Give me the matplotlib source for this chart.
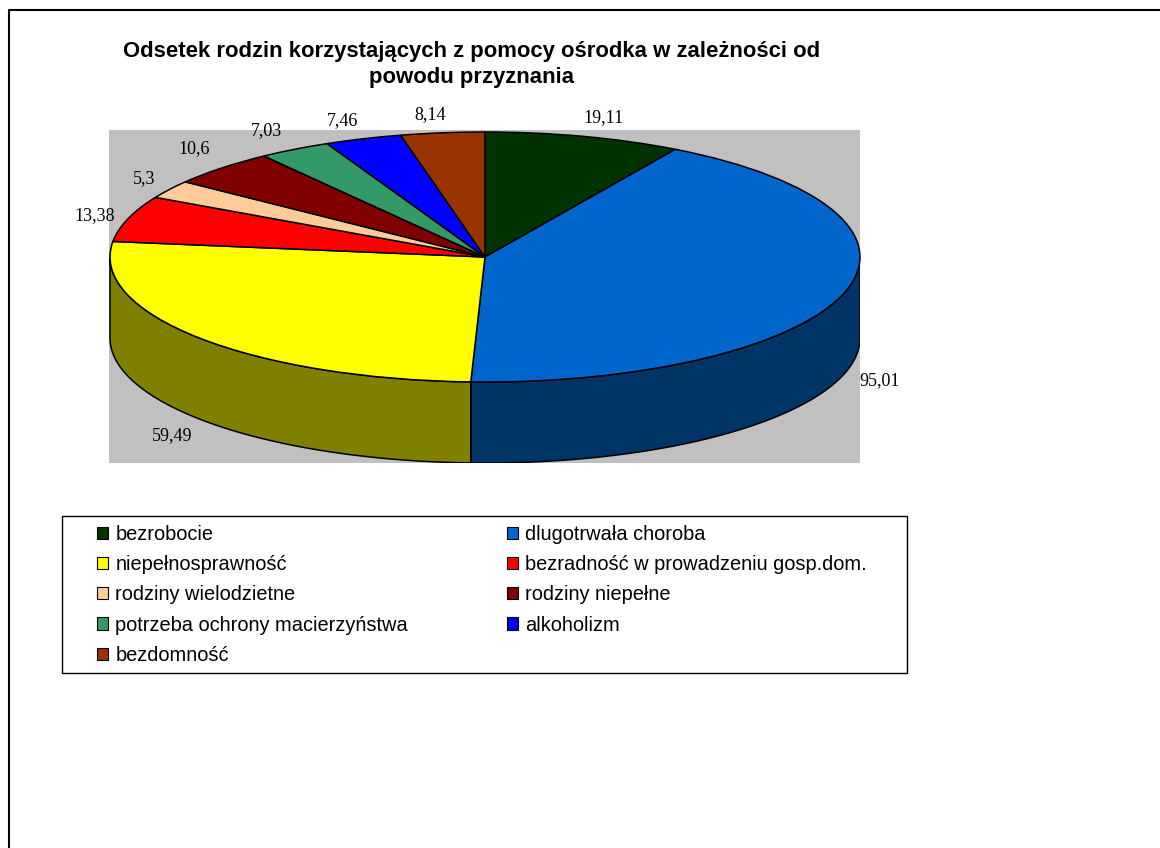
import numpy as np
import matplotlib
matplotlib.use('Agg')
import matplotlib.pyplot as plt
from matplotlib.patches import Polygon, Rectangle

plt.rcParams['font.family'] = ['Liberation Sans', 'DejaVu Sans']

kategorie = ['bezrobocie', 'dlugotrwała choroba', 'niepełnosprawność',
             'bezradność w prowadzeniu gosp.dom.', 'rodziny wielodzietne',
             'rodziny niepełne', 'potrzeba ochrony macierzyństwa',
             'alkoholizm', 'bezdomność']
wartosci = [19.11, 95.01, 59.49, 13.38, 5.3, 10.6, 7.03, 7.46, 8.14]
etykiety = ['19,11', '95,01', '59,49', '13,38', '5,3', '10,6', '7,03', '7,46', '8,14']
kolory = ['#003300', '#0066CC', '#FFFF00', '#FF0000', '#FFCC99',
          '#800000', '#339966', '#0000FF', '#993300']
kolory_boku = ['#001900', '#003366', '#808000', '#800000', '#806650',
               '#400000', '#1A4D33', '#000080', '#4D1900']
tytul = 'Odsetek rodzin korzystających z pomocy ośrodka w zależności od\npowodu przyznania'

# polozenie etykiet w pikselach
pozycje = [(604, 118), (880, 381), (172, 436), (95, 216), (144, 179),
           (194, 149), (267, 131), (343, 121), (430, 115)]

W, H = 1160, 848
fig = plt.figure(figsize=(W / 100, H / 100), dpi=100)

# tlo calej strony w pikselach
tlo = fig.add_axes([0, 0, 1, 1])
tlo.set_xlim(0, W)
tlo.set_ylim(H, 0)
tlo.axis('off')
tlo.plot([9, 9, W], [H, 10, 10], color='black', lw=1.5)
tlo.text(471.5, 64.5, tytul, ha='center', va='center', fontsize=15.9,
         fontweight='bold', linespacing=1.25)
tlo.add_patch(Rectangle((62, 516), 845, 157, facecolor='white', edgecolor='black', lw=1.0))

# wykres: promien 1 = 375 px w poziomie, 125 px w pionie
x0, x1, y0, y1 = 109, 860, 130, 463
cx, cy, rx, ry, glebokosc = 485, 257, 375, 125, 81
ax = fig.add_axes([x0 / W, 1 - y1 / H, (x1 - x0) / W, (y1 - y0) / H], zorder=1)
ax.pie(wartosci, colors=kolory, startangle=90, counterclock=False, frame=True,
       wedgeprops={'edgecolor': 'black', 'linewidth': 1.1})
ax.set_aspect('auto')
ax.set_xlim((x0 - cx) / rx, (x1 - cx) / rx)
ax.set_ylim((cy - y1) / ry, (cy - y0) / ry)
ax.set_xticks([])
ax.set_yticks([])
ax.set_facecolor('#C0C0C0')
for s in ax.spines.values():
    s.set_visible(False)

# bok tortu
d = glebokosc / ry
kumul = np.cumsum([0] + wartosci) / sum(wartosci) * 360
for i in range(len(wartosci)):
    a = max(kumul[i], 90)
    b = min(kumul[i + 1], 270)
    if a >= b:
        continue
    t = np.radians(np.linspace(a, b, 120))
    xs = np.sin(t)
    ys = np.cos(t)
    pts = np.concatenate([np.c_[xs, ys], np.c_[xs, ys - d][::-1]])
    ax.add_patch(Polygon(pts, closed=True, facecolor=kolory_boku[i],
                         edgecolor='black', lw=1.1, zorder=0.5))

for tekst, (px, py) in zip(etykiety, pozycje):
    tlo.text(px, py, tekst, ha='center', va='center', fontsize=13,
             family='Liberation Serif', zorder=5)
tlo.set_zorder(2)
tlo.patch.set_visible(False)

# legenda wierszami, jak w oryginale
uchwyty = [Rectangle((0, 0), 1, 1, facecolor=k, edgecolor='black', lw=0.8) for k in kolory]
kolejnosc = [0, 2, 4, 6, 8, 1, 3, 5, 7]
leg = fig.legend([uchwyty[i] for i in kolejnosc], [kategorie[i] for i in kolejnosc],
                 ncol=2, loc='upper left', bbox_to_anchor=(97 / W, 1 - 525 / H),
                 borderaxespad=0, borderpad=0, frameon=False,
                 fontsize=14.4, handlelength=0.56, handleheight=0.56, handletextpad=0.35,
                 labelspacing=0.56, columnspacing=4.95)
leg.set_zorder(3)

fig.savefig('out.png', dpi=100)
